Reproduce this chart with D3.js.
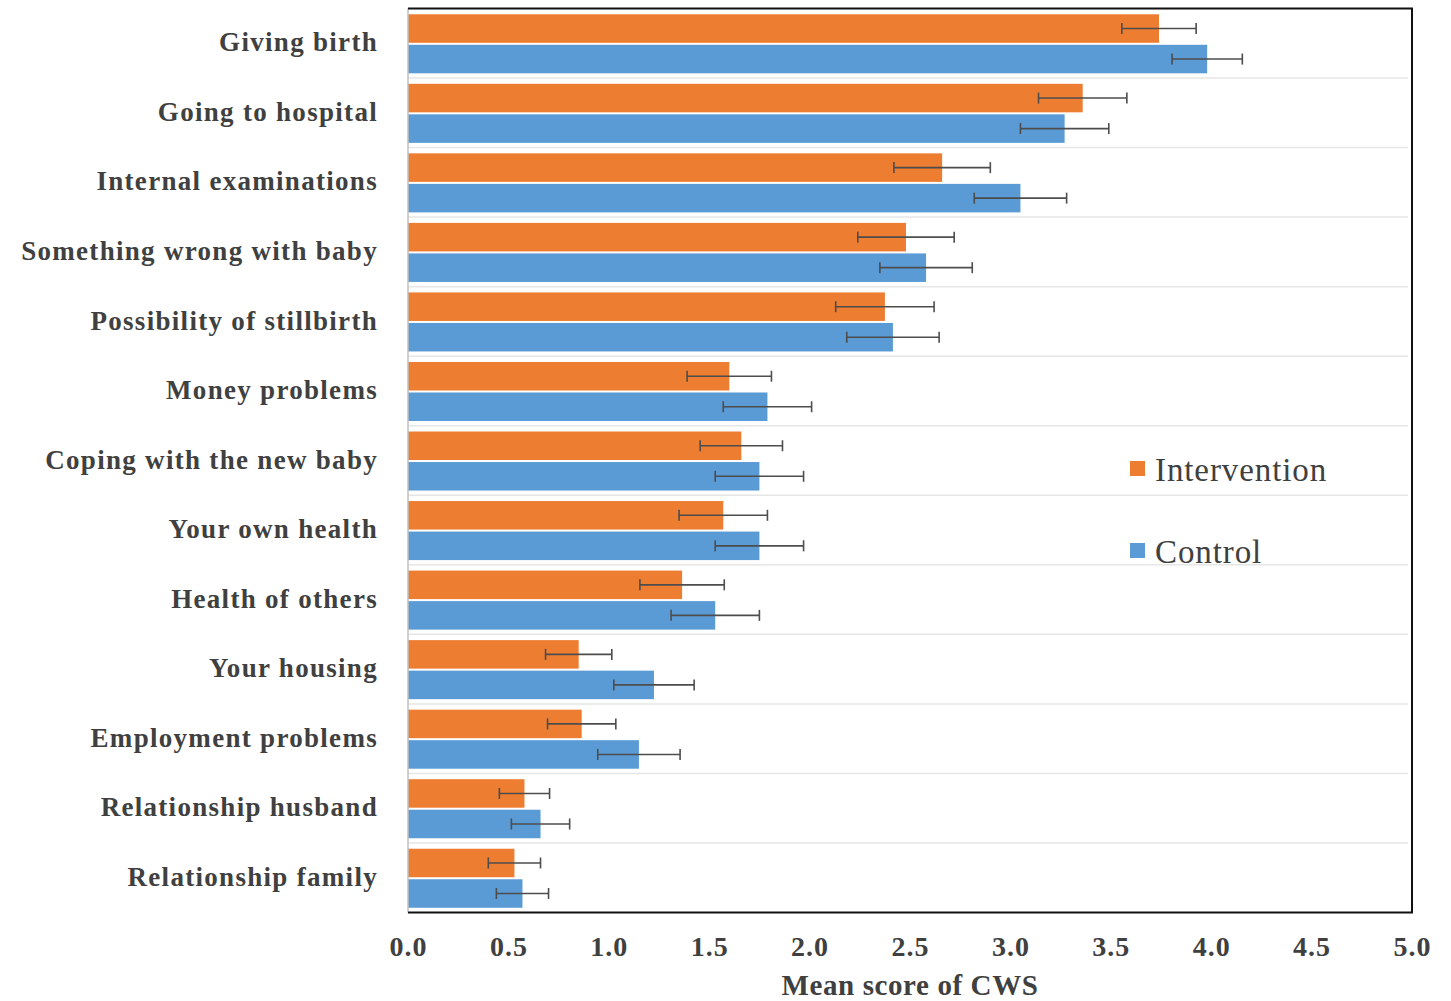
<!DOCTYPE html>
<html>
<head>
<meta charset="utf-8">
<script src="https://cdn.jsdelivr.net/npm/d3@7"></script>
<style>
  body { margin: 0; background: #fff; }
  svg { display: block; }
</style>
</head>
<body>
<div id="chart"></div>
<script>
// categories, top to bottom
const categories = [
  "Giving birth", "Going to hospital", "Internal examinations",
  "Something wrong with baby", "Possibility of stillbirth", "Money problems",
  "Coping with the new baby", "Your own health", "Health of others",
  "Your housing", "Employment problems", "Relationship husband",
  "Relationship family"
];
const interventionMean = [3.74, 3.36, 2.66, 2.48, 2.375, 1.60, 1.66, 1.57, 1.365, 0.85, 0.865, 0.58, 0.53];
const interventionErr  = [0.185, 0.22, 0.24, 0.24, 0.245, 0.21, 0.205, 0.22, 0.21, 0.165, 0.17, 0.125, 0.13];
const controlMean = [3.98, 3.27, 3.05, 2.58, 2.415, 1.79, 1.75, 1.75, 1.53, 1.225, 1.15, 0.66, 0.57];
const controlErr  = [0.175, 0.22, 0.23, 0.23, 0.23, 0.22, 0.22, 0.22, 0.22, 0.20, 0.205, 0.145, 0.13];
const seriesNames = ["Intervention", "Control"];
const xTicks = [0, 0.5, 1, 1.5, 2, 2.5, 3, 3.5, 4, 4.5, 5];

const width = 1451, height = 1001;
const margin = { top: 8.5, right: 39, bottom: 88.5, left: 408 };
const colors = { Intervention: "#ED7D31", Control: "#5B9BD5" };
const serif = "'Liberation Serif', 'Times New Roman', serif";

const svg = d3.select("#chart").append("svg")
  .attr("width", width)
  .attr("height", height);

const x = d3.scaleLinear()
  .domain([0, 5])
  .range([margin.left, width - margin.right]);

const y = d3.scaleBand()
  .domain(categories)
  .range([margin.top, height - margin.bottom]);

const inner = d3.scaleBand()
  .domain(seriesNames)
  .range([0, y.bandwidth()])
  .paddingInner(0.066)
  .paddingOuter(0.172)
  .align(0.55);

const rows = categories.map((c, i) => ({
  cat: c,
  vals: [
    { s: "Intervention", v: interventionMean[i], e: interventionErr[i] },
    { s: "Control", v: controlMean[i], e: controlErr[i] }
  ]
}));

// separators between categories
svg.append("g")
  .selectAll("line")
  .data(categories.slice(1))
  .join("line")
  .attr("x1", x(0))
  .attr("x2", x(5) - 4)
  .attr("y1", d => y(d))
  .attr("y2", d => y(d))
  .attr("stroke", "#e6e6e6")
  .attr("stroke-width", 1.5);

const groups = svg.append("g")
  .selectAll("g")
  .data(rows)
  .join("g")
  .attr("transform", d => `translate(0,${y(d.cat)})`);

groups.selectAll("rect")
  .data(d => d.vals)
  .join("rect")
  .attr("x", x(0))
  .attr("y", d => inner(d.s))
  .attr("width", d => x(d.v) - x(0))
  .attr("height", inner.bandwidth())
  .attr("fill", d => colors[d.s]);

// error bars
const err = groups.selectAll("g.err")
  .data(d => d.vals)
  .join("g")
  .attr("class", "err")
  .attr("stroke", "#4d4d4d")
  .attr("stroke-width", 1.6);

err.append("line")
  .attr("x1", d => x(d.v - d.e))
  .attr("x2", d => x(d.v + d.e))
  .attr("y1", d => inner(d.s) + inner.bandwidth() / 2)
  .attr("y2", d => inner(d.s) + inner.bandwidth() / 2);

err.selectAll("line.cap")
  .data(d => [d.v - d.e, d.v + d.e].map(p => ({ p, s: d.s })))
  .join("line")
  .attr("class", "cap")
  .attr("x1", d => x(d.p))
  .attr("x2", d => x(d.p))
  .attr("y1", d => inner(d.s) + inner.bandwidth() / 2 - 5.5)
  .attr("y2", d => inner(d.s) + inner.bandwidth() / 2 + 5.5);

// left axis line
svg.append("line")
  .attr("x1", x(0)).attr("x2", x(0))
  .attr("y1", margin.top).attr("y2", height - margin.bottom)
  .attr("stroke", "#bfbfbf")
  .attr("stroke-width", 1.5);

// frame top, right, bottom
svg.append("path")
  .attr("d", `M${x(0)},${margin.top}H${x(5)}V${height - margin.bottom}H${x(0)}`)
  .attr("fill", "none")
  .attr("stroke", "#111")
  .attr("stroke-width", 2);

// category labels
svg.append("g")
  .selectAll("text")
  .data(categories)
  .join("text")
  .attr("x", 378)
  .attr("y", d => y(d) + y.bandwidth() / 2)
  .attr("dy", "0.3em")
  .attr("text-anchor", "end")
  .attr("font-family", serif)
  .attr("font-weight", "bold")
  .attr("font-size", 27)
  .attr("letter-spacing", 1.3)
  .attr("fill", "#404040")
  .text(d => d);

// x axis
const xAxis = svg.append("g")
  .attr("transform", `translate(0,${height - margin.bottom})`)
  .call(d3.axisBottom(x).tickValues(xTicks).tickFormat(d3.format(".1f")).tickSize(0).tickPadding(24));
xAxis.select(".domain").remove();
xAxis.selectAll("text")
  .attr("font-family", serif)
  .attr("font-weight", "bold")
  .attr("font-size", 28)
  .attr("letter-spacing", 1)
  .attr("fill", "#404040");

svg.append("text")
  .attr("x", x(2.5))
  .attr("y", 995)
  .attr("text-anchor", "middle")
  .attr("font-family", serif)
  .attr("font-weight", "bold")
  .attr("font-size", 29)
  .attr("letter-spacing", 0.6)
  .attr("fill", "#404040")
  .text("Mean score of CWS");

// legend
const legend = svg.append("g")
  .selectAll("g")
  .data(seriesNames)
  .join("g")
  .attr("transform", (d, i) => `translate(1130,${469 + i * 82})`);

legend.append("rect")
  .attr("x", 0).attr("y", -8)
  .attr("width", 15).attr("height", 15)
  .attr("fill", d => colors[d]);

legend.append("text")
  .attr("x", 25)
  .attr("dy", "0.35em")
  .attr("font-family", serif)
  .attr("font-size", 33)
  .attr("letter-spacing", 0.9)
  .attr("fill", "#404040")
  .text(d => d);
</script>
</body>
</html>
